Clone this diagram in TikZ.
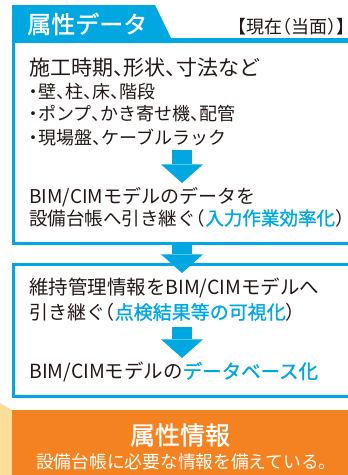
\documentclass[tikz,border=0pt]{standalone}
\usepackage{fontspec}
\setmainfont{Noto Sans CJK JP}[RawFeature=+halt]
\newfontfamily\hlfont{Noto Sans CJK JP}[RawFeature=+halt, FakeBold=1.2]
\usepackage{xcolor}
\usepackage{tikz}
\usetikzlibrary{arrows.meta, positioning}
\definecolor{cimblue}{RGB}{0,167,225}
\definecolor{infoorange}{RGB}{245,130,32}
\definecolor{infotan}{RGB}{253,221,152}
\definecolor{bodytext}{RGB}{35,24,21}
\newcommand{\fsz}[1]{\fontsize{#1pt}{#1pt}\selectfont}

\begin{document}
\begin{tikzpicture}[x=0.75pt, y=-0.75pt,
    txt/.style={anchor=west, inner sep=0pt, text=bodytext},
    downarrow/.style={draw=cimblue, line width=15pt,
        -{Triangle[width=31.5pt, length=14pt, line width=0pt]}}]
    \useasboundingbox (0,0) rectangle (348,475);
    \clip (0,0) rectangle (348,475);

    % header tab and first box
    \fill[cimblue] (12,5) -- (155,5) -- (172,40) -- (12,40) -- cycle;
    \draw[cimblue, line width=2.25pt] (13.5,41) rectangle (400,243.5);
    \fill[cimblue] (12,38) rectangle (400,43);
    \node[txt, text=white, font=\hlfont\fsz{18}] (tabtitle) at (27,24) {属性データ};
    \node[txt, anchor=east, font=\fsz{13.5}] (status) at (346,27) {【現在（当面）】};

    \node[txt, font=\fsz{15.75}] (period) at (29,68) {施工時期、形状、寸法など};
    \node[txt, font=\fsz{13.5}] (item1) at (29,92) {・壁、柱、床、階段};
    \node[txt, font=\fsz{13.5}] (item2) at (29,114) {・ポンプ、かき寄せ機、配管};
    \node[txt, font=\fsz{13.5}] (item3) at (29,138) {・現場盤、ケーブルラック};
    \node[txt, font=\fsz{14.25}] (handA) at (29,197) {BIM/CIMモデルのデータを};
    \node[txt, font=\fsz{13.9}] (handB) at (29,218)
        {設備台帳へ引き継ぐ（{\color{cimblue}\hlfont 入力作業効率化}）};

    % second box
    \draw[cimblue, line width=2.25pt] (13.5,264.5) rectangle (400,396.5);
    \node[txt, font=\fsz{14.6}] (maintA) at (29,288) {維持管理情報をBIM/CIMモデルへ};
    \node[txt, font=\fsz{14.25}] (maintB) at (29,312)
        {引き継ぐ（{\color{cimblue}\hlfont 点検結果等の可視化}）};
    \node[txt, font=\fsz{14.6}] (dbase) at (29,372)
        {BIM/CIMモデルの{\color{cimblue}\hlfont データベース化}};

    % arrows
    \coordinate (a1top) at (182,150);
    \coordinate (a1tip) at (182,183);
    \coordinate (a2top) at (182,243);
    \coordinate (a2tip) at (182,273);
    \coordinate (a3top) at (182,327);
    \coordinate (a3tip) at (182,358);
    \draw[downarrow] (a1top) -- (a1tip);
    \draw[downarrow] (a2top) -- (a2tip);
    \draw[downarrow] (a3top) -- (a3tip);

    % result band
    \fill[infotan] (0,403) -- (12,410) -- (12,475) -- (0,475) -- cycle;
    \fill[infoorange] (12,410) rectangle (400,475);
    \node[txt, anchor=center, text=white, font=\hlfont\fsz{18.75}] (result) at (180,435) {属性情報};
    \node[txt, anchor=center, text=white, font=\fsz{13.3}] (resultsub) at (182,462)
        {設備台帳に必要な情報を備えている。};
\end{tikzpicture}
\end{document}
